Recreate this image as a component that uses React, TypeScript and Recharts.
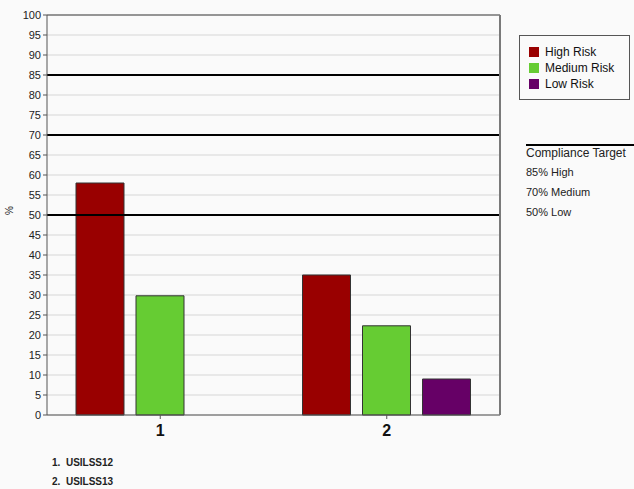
import {
  ComposedChart,
  Bar,
  XAxis,
  YAxis,
  CartesianGrid,
  ReferenceLine,
} from 'recharts';

const categories = ['1', '2'];
const groupNames = ['USILSS12', 'USILSS13'];
const highRisk = [58, 35];
const mediumRisk = [29.8, 22.3];
const lowRisk: (number | null)[] = [null, 9];
const yTicks = [0, 5, 10, 15, 20, 25, 30, 35, 40, 45, 50, 55, 60, 65, 70, 75, 80, 85, 90, 95, 100];
const targetValues = [85, 70, 50];
const targetLabels = ['85% High', '70% Medium', '50% Low'];

const series = [
  { key: 'high', name: 'High Risk', color: '#990000' },
  { key: 'medium', name: 'Medium Risk', color: '#66cc33' },
  { key: 'low', name: 'Low Risk', color: '#660066' },
];

const data = categories.map((c, i) => ({
  cat: c,
  high: highRisk[i],
  medium: mediumRisk[i],
  low: lowRisk[i],
}));

const font = 'Arial, "Liberation Sans", sans-serif';

export default function App() {
  return (
    <div
      style={{
        position: 'absolute',
        left: 0,
        top: 0,
        width: 634,
        height: 489,
        background: '#fafafa',
        fontFamily: font,
        overflow: 'hidden',
      }}
    >
      <ComposedChart
        width={634}
        height={489}
        data={data}
        margin={{ top: 15, right: 133, left: 0, bottom: 44 }}
        barSize={48}
        barGap={12}
      >
        <CartesianGrid vertical={false} stroke="#d6d6d6" strokeWidth={1} />
        <XAxis
          dataKey="cat"
          height={30}
          tickSize={4}
          tickMargin={6}
          axisLine={{ stroke: '#555' }}
          tickLine={{ stroke: '#555' }}
          tick={{ fontSize: 16, fontWeight: 'bold', fill: '#111', fontFamily: font }}
        />
        <YAxis
          width={47}
          domain={[0, 100]}
          ticks={yTicks}
          interval={0}
          tickSize={4}
          axisLine={{ stroke: '#555' }}
          tickLine={{ stroke: '#555' }}
          tick={{ fontSize: 11, fill: '#222', fontFamily: font }}
          label={{ value: '%', angle: -90, position: 'insideLeft', offset: 9, fontSize: 10, fill: '#222' }}
        />
        <YAxis
          yAxisId="r"
          orientation="right"
          width={1}
          domain={[0, 100]}
          tick={false}
          tickLine={false}
          axisLine={{ stroke: '#7a7a7a', strokeWidth: 2 }}
        />
        {series.map((s) => (
          <Bar key={s.key} dataKey={s.key} name={s.name} fill={s.color} stroke="#333" isAnimationActive={false} />
        ))}
        {targetValues.map((v) => (
          <ReferenceLine key={v} y={v} stroke="#000" strokeWidth={2} />
        ))}
        <ReferenceLine y={100} stroke="#7a7a7a" strokeWidth={1.5} />
      </ComposedChart>
      <div
        style={{
          position: 'absolute',
          left: 519,
          top: 35,
          width: 109,
          height: 63,
          border: '1px solid #555',
        }}
      >
        {series.map((s, i) => (
          <div key={s.key} style={{ position: 'absolute', left: 9, top: 8 + i * 16, height: 16, display: 'flex', alignItems: 'center' }}>
            <span style={{ display: 'inline-block', width: 10, height: 10, background: s.color, marginRight: 6 }} />
            <span style={{ fontSize: 12, color: '#111' }}>{s.name}</span>
          </div>
        ))}
      </div>
      <div style={{ position: 'absolute', left: 526, top: 144, width: 108, borderTop: '2px solid #000' }} />
      <div style={{ position: 'absolute', left: 526, top: 146, fontSize: 12, color: '#222' }}>Compliance Target</div>
      {targetLabels.map((t, i) => (
        <div key={t} style={{ position: 'absolute', left: 526, top: 166 + i * 20, fontSize: 11, color: '#222' }}>
          {t}
        </div>
      ))}
      {groupNames.map((n, i) => (
        <div
          key={n}
          style={{ position: 'absolute', left: 52, top: 457 + i * 19, fontSize: 10, fontWeight: 'bold', color: '#222' }}
        >
          {i + 1}.&nbsp; {n}
        </div>
      ))}
    </div>
  );
}
